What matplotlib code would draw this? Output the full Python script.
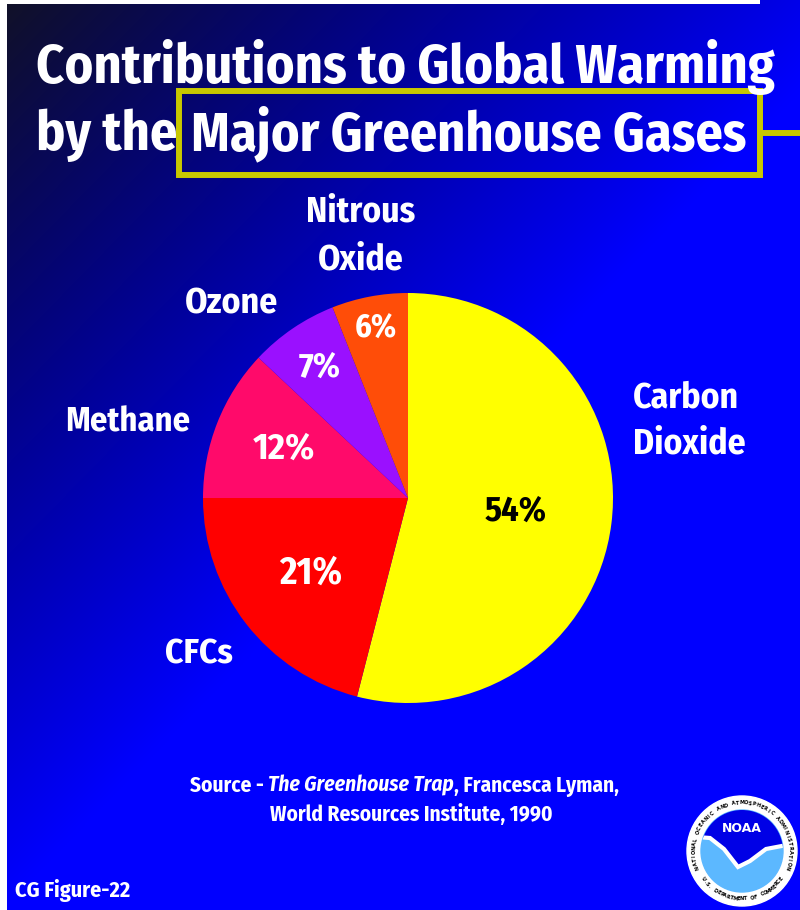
import numpy as np
import matplotlib
matplotlib.use("Agg")
import matplotlib.pyplot as plt
from matplotlib import font_manager
from matplotlib.patches import Rectangle, Circle, Polygon

# ---------------- data ----------------
gases = ["Carbon\nDioxide", "CFCs", "Methane", "Ozone", "Nitrous\nOxide"]
shares = [54, 21, 12, 7, 6]
pct_labels = ["54%", "21%", "12%", "7%", "6%"]
colors = ["#FFFF00", "#FF0000", "#FF0A6A", "#9A10FF", "#FF4D08"]
pct_colors = ["black", "white", "white", "white", "white"]
title_line1 = "Contributions to Global Warming"
title_by = "by the"
title_boxed = "Major Greenhouse Gases"
source_parts = [("Source - ", "normal"), ("The Greenhouse Trap", "italic"),
                (", Francesca Lyman,", "normal")]
source_line2 = "World Resources Institute, 1990"
fig_tag = "CG Figure-22"

W, H = 800, 910
names = {f.name for f in font_manager.fontManager.ttflist}
FONT = "Fira Sans Condensed" if "Fira Sans Condensed" in names else "DejaVu Sans"
plt.rcParams["font.family"] = [FONT, "DejaVu Sans"]

fig = plt.figure(figsize=(W / 100, H / 100), dpi=100)
ax = fig.add_axes([0, 0, 1, 1])

def Y(py):
    return H - py

# ------------- background gradient -------------
xs = np.linspace(0, 1, 400)
ys = np.linspace(0, 1, 455)          # 0 = top of picture
xx, yy = np.meshgrid(xs, ys)
t = np.clip(0.9 * xx + 1.0 * yy, 0, 1)
img = np.zeros(xx.shape + (3,))
img[..., 0] = 0.07 * (1 - t) ** 3
img[..., 1] = 0.07 * (1 - t) ** 3
img[..., 2] = 0.15 + 0.85 * t
ax.imshow(img, extent=[0, W, 0, H], origin="upper", zorder=0, aspect="auto",
          interpolation="bilinear")
ax.add_patch(Rectangle((0, 0), 7, H, color="white", zorder=1, lw=0))
ax.add_patch(Rectangle((0, Y(4)), 760, 4, color="white", zorder=1, lw=0))

# ------------- pie -------------
cx, cy, R = 408, Y(498), 205
wedges, _ = ax.pie(shares, colors=colors, startangle=90, counterclock=False,
                   center=(cx, cy), radius=R, frame=True,
                   wedgeprops=dict(linewidth=0, zorder=3))
ax.set_xlim(0, W)
ax.set_ylim(0, H)
ax.set_aspect("equal")
ax.axis("off")

fig.canvas.draw()
renderer = fig.canvas.get_renderer()

def fit(txt, target_w):
    bb = txt.get_window_extent(renderer)
    txt.set_fontsize(txt.get_fontsize() * target_w / bb.width)
    return txt

# ------------- title -------------
t1 = ax.text(36, Y(83), title_line1, color="white", fontsize=40, fontweight="bold",
             ha="left", va="baseline", zorder=5)
fit(t1, 737)
t2 = ax.text(36, Y(150), title_by, color="white", fontsize=t1.get_fontsize(), fontweight="bold",
             ha="left", va="baseline", zorder=5)
t3 = ax.text(191, Y(150), title_boxed, color="white", fontsize=40, fontweight="bold",
             ha="left", va="baseline", zorder=5)
fit(t3, 556)
box_c = "#C8C800"
ax.add_patch(Rectangle((179, Y(175)), 581, 84, fill=False, ec=box_c, lw=4.3, zorder=4))
ax.plot([760, W], [Y(133), Y(133)], color=box_c, lw=4.3, zorder=4, solid_capstyle="butt")

# ------------- percent labels -------------
pct_dist = [0.53, 0.60, 0.65, 0.77, 0.84]
pct_w = [62, 63, 62, 42, 42]
for w, lab, c, d, pw in zip(wedges, pct_labels, pct_colors, pct_dist, pct_w):
    ang = np.deg2rad((w.theta1 + w.theta2) / 2)
    tt = ax.text(cx + d * R * np.cos(ang), cy + d * R * np.sin(ang), lab, color=c,
                 fontsize=27, fontweight="bold", ha="center", va="center", zorder=6)
    fit(tt, pw)

# ------------- category labels -------------
# (x, first-line baseline, alignment, width of first line)
label_pos = [(633, 408, "left", 106), (199, 664, "center", 68), (128, 432, "center", 125),
             (231, 314, "center", 93), (361, 221, "center", 109)]
line_gap = [45, 0, 0, 0, 48]
for g, (px, py, ha, lw_), gap in zip(gases, label_pos, line_gap):
    lines = g.split("\n")
    first = ax.text(px, Y(py), lines[0], color="white", fontsize=26, fontweight="bold",
                    ha=ha, va="baseline", zorder=6)
    fit(first, lw_)
    for k, ln in enumerate(lines[1:], start=1):
        ax.text(px, Y(py + k * gap), ln, color="white", fontsize=first.get_fontsize(),
                fontweight="bold", ha=ha, va="baseline", zorder=6)

# ------------- source -------------
x0 = 190
parts = []
for txt, style in source_parts:
    tt = ax.text(x0, Y(792), txt, color="white", fontsize=14, fontweight="bold",
                 style=style, ha="left", va="baseline", zorder=6)
    parts.append(tt)
    x0 += tt.get_window_extent(renderer).width
scale = 430 / (x0 - 190)
x0 = 190
for tt in parts:
    tt.set_fontsize(tt.get_fontsize() * scale)
    tt.set_x(x0)
    x0 += tt.get_window_extent(renderer).width
s2 = ax.text(270, Y(821), source_line2, color="white", fontsize=14, fontweight="bold",
             ha="left", va="baseline", zorder=6)
fit(s2, 283)
tg = ax.text(15, Y(897), fig_tag, color="white", fontsize=12, fontweight="bold",
             ha="left", va="baseline", zorder=6)
fit(tg, 115)

# ------------- NOAA logo -------------
lx, ly = 742, Y(851)
ax.add_patch(Circle((lx, ly), 55, color="white", zorder=7))
inner = Circle((lx, ly), 41, color="#5CB8FF", zorder=8)
ax.add_patch(inner)
gull = np.array([[lx - 45, ly + 14], [lx - 32, ly + 13], [lx - 18, ly + 2], [lx - 4, ly - 16],
                 [lx + 8, ly - 10], [lx + 24, ly + 2], [lx + 45, ly + 6],
                 [lx + 45, ly + 50], [lx - 45, ly + 50]])
top = Polygon(gull, closed=True, fc="#0000E6", ec="white", lw=3, zorder=9)
ax.add_patch(top)
top.set_clip_path(inner)
ax.text(lx, ly + 22, "NOAA", color="white", fontsize=9, fontweight="bold",
        ha="center", va="center", zorder=10, family="DejaVu Sans")
ring_top = "NATIONAL OCEANIC AND ATMOSPHERIC ADMINISTRATION"
ring_bot = "U.S. DEPARTMENT OF COMMERCE"
rr = 48
angs = np.linspace(200, -20, len(ring_top))
for ch, a in zip(ring_top, angs):
    ar = np.deg2rad(a)
    ax.text(lx + rr * np.cos(ar), ly + rr * np.sin(ar), ch, fontsize=3.6, color="black",
            rotation=a - 90, ha="center", va="center", zorder=10, family="DejaVu Sans",
            fontweight="bold")
angs = np.linspace(215, 325, len(ring_bot))
for ch, a in zip(ring_bot, angs):
    ar = np.deg2rad(a)
    ax.text(lx + rr * np.cos(ar), ly + rr * np.sin(ar), ch, fontsize=3.6, color="black",
            rotation=a + 90, ha="center", va="center", zorder=10, family="DejaVu Sans",
            fontweight="bold")

fig.savefig("out.png", dpi=100)
